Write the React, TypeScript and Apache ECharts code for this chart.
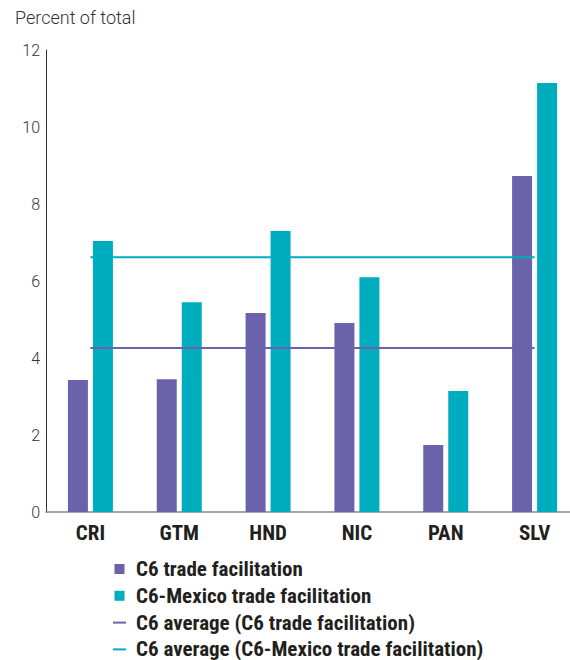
import React, { useEffect, useRef } from "react";
import * as echarts from "echarts";

const categories = ["CRI", "GTM", "HND", "NIC", "PAN", "SLV"];
const c6Values = [3.43, 3.45, 5.17, 4.91, 1.74, 8.73];
const c6MexicoValues = [7.04, 5.45, 7.3, 6.1, 3.14, 11.14];
const c6Average = 4.26;
const c6MexicoAverage = 6.62;
const yTicks = { min: 0, max: 12, interval: 2 };
const seriesNames = [
  "C6 trade facilitation",
  "C6-Mexico trade facilitation",
  "C6 average (C6 trade facilitation)",
  "C6 average (C6-Mexico trade facilitation)",
];
const yTitle = "Percent of total";

const PURPLE = "#6a63ab";
const TEAL = "#00adbe";
const BOLD_FONT = "'Roboto Condensed', 'Liberation Sans Narrow', 'DejaVu Sans Condensed', Roboto, sans-serif";
const LIGHT_FONT = "Roboto, 'Noto Sans', sans-serif";

export default function App() {
  const ref = useRef<HTMLDivElement>(null);
  useEffect(() => {
    if (!ref.current) return;
    const chart = echarts.init(ref.current, null, { renderer: "svg" });
    const avgLine = (v: number) => categories.map(() => v);
    chart.setOption({
      animation: false,
      title: {
        text: yTitle,
        left: 15,
        top: 8,
        padding: 0,
        textStyle: { fontFamily: LIGHT_FONT, fontSize: 18, fontWeight: 300, color: "#333" },
      },
      grid: { left: 46, top: 50, width: 533, bottom: 148, containLabel: false },
      xAxis: {
        type: "category",
        data: categories,
        axisLine: { lineStyle: { color: "#888", width: 1.5 } },
        axisTick: { show: false },
        axisLabel: {
          fontFamily: BOLD_FONT,
          fontWeight: "bold",
          fontSize: 21,
          color: "#231f20",
          margin: 10,
        },
      },
      yAxis: {
        type: "value",
        min: yTicks.min,
        max: yTicks.max,
        interval: yTicks.interval,
        axisLine: { show: true, lineStyle: { color: "#333", width: 1 } },
        axisTick: { show: false },
        splitLine: { show: false },
        axisLabel: { fontFamily: LIGHT_FONT, fontWeight: 300, fontSize: 16, color: "#333", margin: 6 },
      },
      legend: {
        orient: "vertical",
        left: 113,
        top: 558,
        height: 110,
        padding: 0,
        itemWidth: 13,
        itemHeight: 10,
        itemGap: 4.8,
        symbolKeepAspect: true,
        textStyle: {
          fontFamily: BOLD_FONT,
          fontWeight: "bold",
          fontSize: 21,
          color: "#231f20",
          lineHeight: 22,
          padding: [0, 0, 0, 5],
        },
        data: [
          { name: seriesNames[0], icon: "path://M0,0h10v10h-10z" },
          { name: seriesNames[1], icon: "path://M0,0h10v10h-10z" },
          { name: seriesNames[2], icon: "path://M0,4h13v2h-13z" },
          { name: seriesNames[3], icon: "path://M0,4h13v2h-13z" },
        ],
      },
      series: [
        {
          name: seriesNames[0],
          type: "bar",
          data: c6Values,
          barWidth: 20,
          barGap: "25%",
          itemStyle: { color: PURPLE },
        },
        {
          name: seriesNames[1],
          type: "bar",
          data: c6MexicoValues,
          barWidth: 20,
          barGap: "25%",
          itemStyle: { color: TEAL },
        },
        {
          name: seriesNames[2],
          type: "line",
          data: avgLine(c6Average),
          symbol: "none",
          z: 5,
          itemStyle: { color: PURPLE },
          lineStyle: { color: PURPLE, width: 2 },
        },
        {
          name: seriesNames[3],
          type: "line",
          data: avgLine(c6MexicoAverage),
          symbol: "none",
          z: 5,
          itemStyle: { color: TEAL },
          lineStyle: { color: TEAL, width: 2 },
        },
      ],
    });
    return () => chart.dispose();
  }, []);
  return (
    <div
      style={{ position: "fixed", left: 0, top: 0, width: 570, height: 660, overflow: "hidden", background: "#fff" }}
    >
      <div ref={ref} style={{ width: 600, height: 660 }} />
    </div>
  );
}
